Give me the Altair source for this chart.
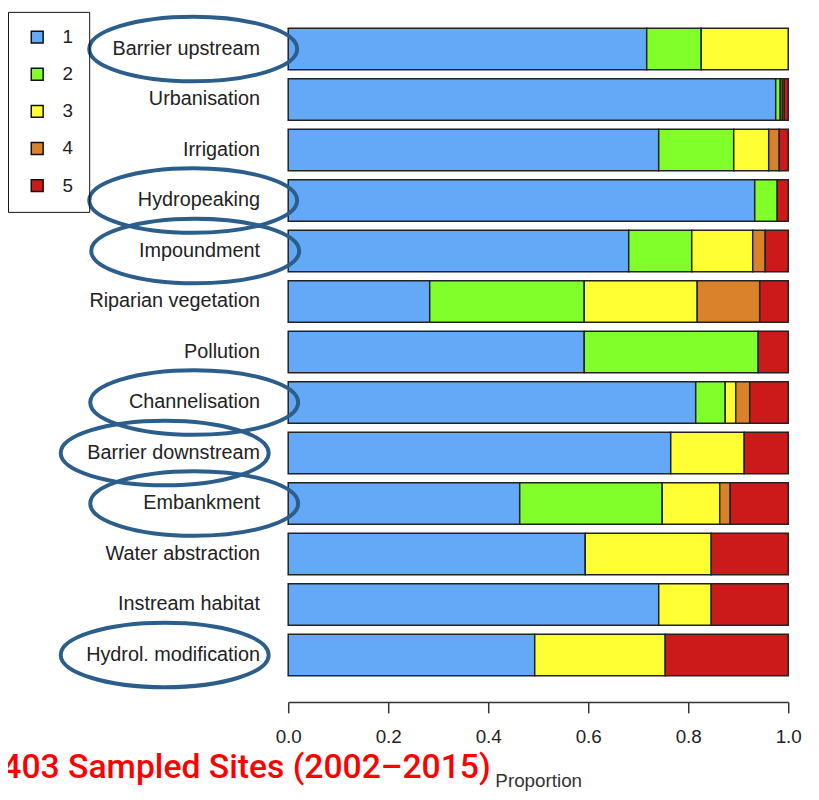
import altair as alt
import pandas as pd

categories = ["Barrier upstream", "Urbanisation", "Irrigation", "Hydropeaking",
              "Impoundment", "Riparian vegetation", "Pollution", "Channelisation",
              "Barrier downstream", "Embankment", "Water abstraction",
              "Instream habitat", "Hydrol. modification"]
class_labels = ["1", "2", "3", "4", "5"]
class1 = [0.717, 0.975, 0.741, 0.933, 0.681, 0.283, 0.592, 0.815, 0.765, 0.463, 0.594, 0.741, 0.493]
class2 = [0.109, 0.009, 0.150, 0.045, 0.126, 0.309, 0.348, 0.059, 0.0, 0.285, 0.0, 0.0, 0.0]
class3 = [0.174, 0.004, 0.070, 0.0, 0.122, 0.226, 0.0, 0.021, 0.147, 0.115, 0.252, 0.105, 0.261]
class4 = [0.0, 0.004, 0.021, 0.0, 0.025, 0.125, 0.0, 0.028, 0.0, 0.021, 0.0, 0.0, 0.0]
class5 = [0.0, 0.008, 0.018, 0.022, 0.046, 0.057, 0.060, 0.077, 0.088, 0.116, 0.154, 0.154, 0.246]
colors = ["#63a9f7", "#80ff2b", "#ffff33", "#d9822b", "#cc1a1a"]

# annotation ellipses (category, horizontal centre in proportion units)
circled = ["Barrier upstream", "Hydropeaking", "Impoundment", "Channelisation",
           "Barrier downstream", "Embankment", "Hydrol. modification"]
circle_x = [-0.19, -0.19, -0.186, -0.188, -0.247, -0.188, -0.247]

note_text = ["403 Sampled Sites (2002–2015)"]
note_x = [0.405]

rows = []
for ci, series in enumerate([class1, class2, class3, class4, class5]):
    for cat, v in zip(categories, series):
        if v > 0:
            rows.append({"cat": cat, "cls": class_labels[ci], "ord": ci, "value": v})
df = pd.DataFrame(rows)
ell = pd.DataFrame({"cat": circled, "x": circle_x})
note = pd.DataFrame({"t": note_text, "x": note_x})

xscale = alt.Scale(domain=[0, 1], nice=False, zero=False)
yscale = alt.Scale(domain=categories, paddingInner=0.176, paddingOuter=0.088)

bars = alt.Chart(df).mark_bar(stroke="#222222", strokeWidth=1.5).encode(
    x=alt.X("value:Q", stack="zero", scale=xscale,
            axis=alt.Axis(values=[0, 0.2, 0.4, 0.6, 0.8, 1.0], format=".1f",
                          title="Proportion", grid=False, offset=22, tickSize=11,
                          labelPadding=15, titlePadding=25, labelFontSize=19,
                          labelFlush=False, labelOverlap=False,
                          titleFontSize=19, titleFontWeight="normal",
                          labelColor="#222222", titleColor="#333333",
                          domainColor="#333333", tickColor="#333333",
                          domainWidth=1.5, tickWidth=1.5, labelFont="Liberation Sans",
                          titleFont="Liberation Sans")),
    y=alt.Y("cat:N", scale=yscale, sort=categories,
            axis=alt.Axis(title=None, ticks=False, domain=False, labelPadding=29,
                          labelFontSize=20, labelColor="#222222",
                          labelFont="Liberation Sans", labelLimit=300)),
    color=alt.Color("cls:N", scale=alt.Scale(domain=class_labels, range=colors),
                    legend=alt.Legend(title=None, orient="none", legendX=-283, legendY=-12,
                                      strokeColor="#111111", padding=16,
                                      symbolType="square", symbolSize=144,
                                      symbolStrokeColor="#111111", symbolStrokeWidth=1.5,
                                      symbolOffset=4, labelOffset=16, rowPadding=17.5,
                                      labelFontSize=19, labelFont="Liberation Sans",
                                      labelColor="#222222")),
    order=alt.Order("ord:Q"),
)

ellipse_path = "M -1 0 A 1 0.31 0 1 0 1 0 A 1 0.31 0 1 0 -1 0 Z"
ellipses = alt.Chart(ell).mark_point(shape=ellipse_path, size=44100, filled=False,
                                     stroke="#2c5e8c", strokeWidth=4, opacity=1).encode(
    x=alt.X("x:Q", scale=xscale),
    y=alt.Y("cat:N", scale=yscale, sort=categories),
)

text = alt.Chart(note).mark_text(align="right", baseline="middle", fontSize=34,
                                 font="Roboto", fontWeight=500, color="#ff0000").encode(
    x=alt.X("x:Q", scale=xscale),
    y=alt.value(752),
    text="t:N",
)

chart = alt.layer(bars, ellipses, text).properties(
    width=505, height=663,
    autosize=alt.AutoSizeParams(type="none"),
    padding={"left": 283, "top": 12, "right": 23, "bottom": 112},
).configure_view(stroke=None)

chart.save("out.html", embed_options={"renderer": "svg", "actions": False})
